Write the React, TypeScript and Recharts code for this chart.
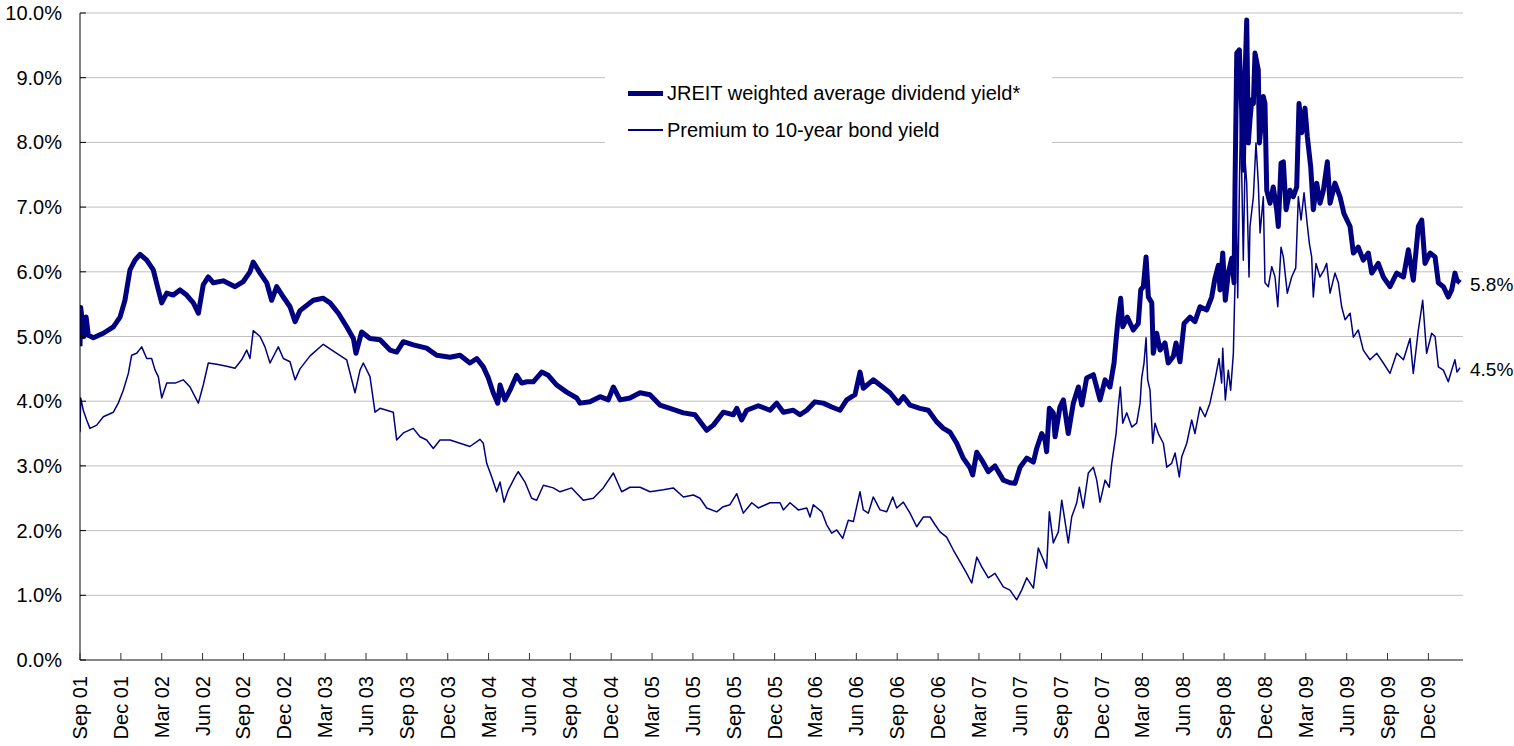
import { LineChart, Line, XAxis, YAxis, CartesianGrid, Legend, LabelList } from 'recharts';

const FONT = '"Liberation Sans", Arial, sans-serif';
const NAVY = '#000080';

// x = months since Sep 2001
const quarterLabels = [
  'Sep 01', 'Dec 01', 'Mar 02', 'Jun 02', 'Sep 02', 'Dec 02', 'Mar 03', 'Jun 03', 'Sep 03',
  'Dec 03', 'Mar 04', 'Jun 04', 'Sep 04', 'Dec 04', 'Mar 05', 'Jun 05', 'Sep 05', 'Dec 05',
  'Mar 06', 'Jun 06', 'Sep 06', 'Dec 06', 'Mar 07', 'Jun 07', 'Sep 07', 'Dec 07', 'Mar 08',
  'Jun 08', 'Sep 08', 'Dec 08', 'Mar 09', 'Jun 09', 'Sep 09', 'Dec 09',
];
const yTicks = [0, 1, 2, 3, 4, 5, 6, 7, 8, 9, 10];

const jreitMonths = [
  0, 0.05, 0.3, 0.45, 0.61, 0.98, 1.71, 2.45, 2.94, 3.3, 3.67, 4.04, 4.41, 4.9, 5.38, 5.75, 6.0,
  6.37, 6.85, 7.34, 7.83, 8.32, 8.69, 9.05, 9.42, 9.79, 10.52, 11.38, 11.99, 12.48, 12.72, 13.22,
  13.71, 14.07, 14.44, 14.93, 15.42, 15.79, 16.15, 17.13, 17.86, 18.36, 18.97, 19.58, 20.07, 20.26,
  20.68, 21.29, 22.03, 22.76, 23.25, 23.74, 24.47, 25.45, 26.19, 27.17, 27.9, 28.63, 29.13, 29.61,
  29.98, 30.34, 30.67, 30.84, 31.2, 31.57, 32.06, 32.43, 32.8, 33.28, 33.9, 34.38, 35.0, 35.73,
  36.47, 36.71, 37.44, 38.18, 38.79, 39.16, 39.65, 40.38, 41.12, 41.85, 42.58, 43.32, 44.3, 45.15,
  46.01, 46.5, 47.23, 47.97, 48.22, 48.58, 48.95, 49.8, 50.66, 51.15, 51.64, 52.37, 52.86, 53.36,
  53.96, 54.57, 55.19, 55.8, 56.29, 56.9, 57.27, 57.51, 58.24, 58.74, 59.47, 60.08, 60.45, 60.94,
  61.67, 62.28, 62.9, 63.39, 63.88, 64.37, 64.85, 65.35, 65.54, 65.84, 66.21, 66.69, 67.18, 67.79,
  68.28, 68.65, 69.02, 69.51, 70.0, 70.24, 70.61, 70.85, 70.97, 71.17, 71.46, 71.59, 71.95, 72.2,
  72.56, 72.93, 73.3, 73.55, 73.91, 74.4, 74.89, 75.26, 75.62, 75.92, 76.07, 76.23, 76.41, 76.56,
  76.89, 77.33, 77.7, 77.88, 78.07, 78.27, 78.44, 78.69, 78.8, 79.05, 79.3, 79.66, 79.9, 80.27,
  80.47, 80.76, 81.06, 81.5, 81.86, 82.23, 82.72, 83.09, 83.33, 83.58, 83.7, 83.9, 84.09, 84.31,
  84.56, 84.73, 84.8, 84.93, 85.12, 85.29, 85.41, 85.54, 85.66, 85.78, 85.9, 86.03, 86.15, 86.27,
  86.51, 86.59, 86.76, 86.88, 87.0, 87.13, 87.37, 87.61, 87.86, 87.98, 88.18, 88.35, 88.55, 88.84,
  89.08, 89.33, 89.5, 89.7, 89.94, 90.11, 90.36, 90.55, 90.8, 91.04, 91.29, 91.58, 91.78, 92.14,
  92.51, 92.8, 93.25, 93.49, 93.85, 94.22, 94.59, 94.84, 95.32, 95.69, 96.18, 96.67, 97.17, 97.53,
  97.89, 98.26, 98.51, 98.75, 99.12, 99.49, 99.73, 100.1, 100.46, 100.71, 100.95, 101.1, 101.32,
];
const jreitYield = [
  4.85, 5.45, 5.0, 5.3, 5.02, 4.98, 5.05, 5.15, 5.3, 5.56, 6.03, 6.18, 6.27, 6.18, 6.03, 5.72, 5.52,
  5.67, 5.64, 5.72, 5.64, 5.52, 5.36, 5.8, 5.92, 5.83, 5.86, 5.77, 5.85, 6.0, 6.15, 5.98,
  5.83, 5.56, 5.77, 5.61, 5.46, 5.23, 5.4, 5.56, 5.59, 5.52, 5.36, 5.15, 4.97, 4.74,
  5.07, 4.97, 4.95, 4.79, 4.76, 4.92, 4.87, 4.82, 4.71, 4.68, 4.71, 4.59, 4.66, 4.53,
  4.36, 4.13, 3.97, 4.25, 4.02, 4.17, 4.4, 4.28, 4.3, 4.3, 4.45, 4.4, 4.25, 4.14,
  4.05, 3.97, 3.99, 4.07, 4.02, 4.22, 4.02, 4.05, 4.13, 4.1, 3.94, 3.89, 3.82, 3.79,
  3.55, 3.63, 3.83, 3.79, 3.89, 3.71, 3.86, 3.93, 3.86, 3.97, 3.83, 3.86, 3.79, 3.86,
  3.99, 3.97, 3.91, 3.86, 4.02, 4.1, 4.45, 4.2, 4.33, 4.25, 4.13, 3.97, 4.07, 3.94,
  3.89, 3.86, 3.68, 3.58, 3.52, 3.35, 3.12, 2.97, 2.86, 3.21, 3.09, 2.91, 3.0, 2.78,
  2.74, 2.73, 2.98, 3.12, 3.06, 3.27, 3.5, 3.4, 3.22, 3.89, 3.82, 3.45, 3.91, 4.02,
  3.5, 3.97, 4.22, 3.94, 4.36, 4.41, 4.02, 4.33, 4.22, 4.59, 4.95, 5.3, 5.59, 5.15,
  5.3, 5.1, 5.2, 5.72, 5.77, 6.23, 5.61, 5.52, 4.74, 5.05, 4.79, 4.9, 4.59, 4.69,
  4.9, 4.61, 5.2, 5.3, 5.23, 5.46, 5.41, 5.61, 5.9, 6.1, 5.72, 6.29, 5.56, 5.98,
  6.21, 5.83, 7.3, 9.38, 9.43, 8.5, 7.57, 9.02, 9.89, 7.99, 8.35, 8.66, 8.6, 9.38,
  9.12, 7.99, 8.35, 8.71, 8.6, 7.26, 7.06, 7.31, 6.96, 6.7, 7.68, 7.7, 6.96, 7.26,
  7.16, 7.31, 8.6, 8.15, 8.53, 8.09, 7.62, 6.96, 7.37, 7.06, 7.26, 7.7, 7.06, 7.37,
  7.16, 6.9, 6.7, 6.29, 6.38, 6.18, 6.29, 5.98, 6.13, 5.92, 5.77, 5.98, 5.92, 6.34,
  5.87, 6.7, 6.8, 6.13, 6.29, 6.23, 5.83, 5.77, 5.61, 5.72, 5.98, 5.87, 5.83,
];

const premiumMonths = [
  0, 0.05, 0.24, 0.49, 0.73, 1.23, 1.71, 2.45, 2.81, 3.18, 3.55, 3.79, 4.16, 4.53, 4.9, 5.26, 5.51,
  5.75, 6.0, 6.37, 6.98, 7.58, 8.08, 8.44, 8.69, 9.05, 9.42, 10.04, 10.77, 11.38, 11.87, 12.24,
  12.48, 12.72, 13.22, 13.58, 13.95, 14.56, 14.93, 15.42, 15.79, 16.15, 16.89, 17.86, 18.85, 19.58,
  20.19, 20.56, 20.8, 21.29, 21.66, 22.03, 23.0, 23.25, 23.74, 24.47, 24.96, 25.45, 25.94, 26.43,
  27.17, 27.9, 28.63, 29.37, 29.61, 29.86, 30.23, 30.59, 30.84, 31.13, 31.45, 31.94, 32.18, 32.67,
  33.16, 33.53, 34.02, 34.75, 35.24, 36.1, 36.95, 37.69, 38.42, 39.16, 39.77, 40.38, 41.12, 41.85,
  42.83, 43.56, 44.3, 45.03, 45.52, 46.01, 46.75, 47.23, 47.72, 48.22, 48.7, 49.32, 49.8, 50.66,
  51.4, 51.64, 52.13, 52.74, 53.36, 53.6, 53.84, 54.46, 54.82, 55.19, 55.56, 56.0, 56.41, 56.78,
  57.27, 57.51, 57.88, 58.24, 58.74, 59.23, 59.67, 59.96, 60.45, 60.94, 61.43, 61.92, 62.41, 62.78,
  63.14, 63.63, 64.12, 64.61, 65.1, 65.47, 65.84, 66.21, 66.69, 67.18, 67.79, 68.28, 68.77, 69.14,
  69.51, 70.0, 70.36, 70.73, 70.97, 71.17, 71.46, 71.83, 72.08, 72.25, 72.56, 72.81, 73.18, 73.37,
  73.66, 74.03, 74.4, 74.65, 74.89, 75.26, 75.57, 75.75, 76.07, 76.23, 76.38, 76.56, 76.85, 77.22,
  77.58, 77.83, 77.95, 78.12, 78.27, 78.39, 78.56, 78.76, 78.93, 79.17, 79.54, 79.79, 80.15, 80.4,
  80.71, 80.89, 81.26, 81.62, 81.86, 82.23, 82.6, 82.96, 83.33, 83.63, 83.82, 83.9, 84.09, 84.31,
  84.48, 84.68, 84.8, 84.88, 85.0, 85.21, 85.41, 85.54, 85.66, 85.83, 85.9, 86.15, 86.34, 86.51,
  86.64, 86.88, 87.0, 87.25, 87.5, 87.74, 87.94, 88.18, 88.35, 88.64, 88.96, 89.26, 89.45, 89.65,
  89.87, 90.07, 90.26, 90.43, 90.55, 90.75, 91.04, 91.34, 91.53, 91.78, 92.14, 92.39, 92.63, 92.88,
  93.25, 93.49, 93.85, 94.22, 94.71, 95.21, 95.69, 96.18, 96.67, 97.17, 97.65, 97.89, 98.26, 98.58,
  98.87, 99.24, 99.49, 99.73, 100.1, 100.46, 100.71, 100.95, 101.1, 101.32,
];
const premiumYield = [
  3.52, 4.05, 3.86, 3.71, 3.58, 3.63, 3.76, 3.83, 3.97, 4.17, 4.43, 4.71, 4.74, 4.84, 4.66, 4.66, 4.48,
  4.38, 4.05, 4.28, 4.28, 4.33, 4.22, 4.07, 3.97, 4.25, 4.59, 4.57, 4.54, 4.51, 4.64, 4.79,
  4.66, 5.09, 5.0, 4.84, 4.59, 4.84, 4.66, 4.61, 4.33, 4.5, 4.7, 4.88, 4.74, 4.64,
  4.13, 4.48, 4.59, 4.38, 3.83, 3.89, 3.83, 3.4, 3.51, 3.58, 3.45, 3.4, 3.27, 3.4,
  3.4, 3.35, 3.3, 3.41, 3.35, 3.04, 2.83, 2.6, 2.75, 2.44, 2.63, 2.83, 2.91, 2.75,
  2.5, 2.47, 2.7, 2.66, 2.6, 2.66, 2.47, 2.5, 2.66, 2.89, 2.6, 2.67, 2.67, 2.6,
  2.63, 2.66, 2.52, 2.55, 2.5, 2.35, 2.29, 2.37, 2.4, 2.57, 2.27, 2.43, 2.35, 2.43,
  2.43, 2.32, 2.43, 2.32, 2.35, 2.21, 2.4, 2.29, 2.09, 1.96, 2.01, 1.88, 2.16, 2.14,
  2.6, 2.32, 2.27, 2.52, 2.32, 2.29, 2.52, 2.35, 2.44, 2.27, 2.06, 2.21, 2.21, 2.09,
  1.98, 1.9, 1.7, 1.52, 1.34, 1.19, 1.59, 1.44, 1.27, 1.34, 1.13, 1.08, 0.93, 1.08,
  1.27, 1.11, 1.73, 1.55, 1.42, 2.29, 1.81, 1.98, 2.47, 2.24, 1.81, 2.21, 2.43, 2.67,
  2.35, 2.89, 2.98, 2.78, 2.44, 2.78, 2.67, 3.04, 3.5, 3.91, 4.22, 3.66, 3.82, 3.6,
  3.66, 3.97, 4.36, 4.59, 4.98, 4.33, 4.17, 3.35, 3.66, 3.5, 3.35, 2.98, 3.04, 3.2,
  2.83, 3.14, 3.35, 3.71, 3.5, 3.91, 3.76, 3.97, 4.33, 4.66, 4.28, 4.82, 4.02, 4.48,
  4.17, 4.74, 5.83, 7.26, 5.6, 8.5, 6.18, 7.73, 7.37, 5.92, 6.7, 7.16, 7.99, 7.37,
  6.6, 7.16, 5.83, 5.77, 6.08, 5.92, 5.46, 6.38, 6.23, 5.67, 5.92, 6.06, 7.16, 6.8,
  7.22, 6.8, 6.44, 6.23, 5.61, 6.13, 5.92, 6.03, 6.13, 5.67, 5.98, 5.83, 5.46, 5.26,
  5.36, 4.99, 5.1, 4.79, 4.64, 4.74, 4.59, 4.43, 4.74, 4.64, 4.97, 4.43, 5.1, 5.56,
  4.74, 5.05, 5.0, 4.53, 4.48, 4.3, 4.48, 4.64, 4.45, 4.52,
];

const series = [
  { name: 'JREIT weighted average dividend yield*', width: 5, months: jreitMonths, values: jreitYield },
  { name: 'Premium to 10-year bond yield', width: 1.5, months: premiumMonths, values: premiumYield },
];

const quarterTicks = quarterLabels.map((_, i) => i * 3);

const XTick = ({ x, y, payload }: any) => {
  const label = quarterLabels[Math.round(payload.value / 3)];
  return (
    <g>
      <line x1={x} x2={x} y1={y} y2={y - 7} stroke="#333" />
      <text
        transform={`translate(${x},${y + 16}) rotate(-90)`}
        textAnchor="end"
        dominantBaseline="central"
        fontSize={20}
        fontFamily={FONT}
        fill="#000"
      >
        {label}
      </text>
    </g>
  );
};

const YTick = ({ x, y, payload }: any) => (
  <g>
    <line x1={x} x2={x + 6} y1={y} y2={y} stroke="#000" />
    <text x={x - 18} y={y} textAnchor="end" dominantBaseline="central" fontSize={20} fontFamily={FONT} fill="#000">
      {`${payload.value.toFixed(1)}%`}
    </text>
  </g>
);

const LegendBox = () => (
  <div style={{ position: 'relative', width: 447, height: 76, background: '#fff', fontFamily: FONT, fontSize: 20, color: '#000' }}>
    {series.map((s, i) => (
      <div
        key={s.name}
        style={{ position: 'absolute', left: 23, top: 21 + i * 37 - 12, height: 24, display: 'flex', alignItems: 'center', whiteSpace: 'nowrap' }}
      >
        <div style={{ width: 35, height: s.width, background: NAVY, marginRight: 4 }} />
        <span>{s.name}</span>
      </div>
    ))}
  </div>
);

const endLabel = (values: number[]) => (props: any) => {
  if (props.index !== values.length - 1) return null;
  return (
    <text x={props.x + 10} y={props.y + 2} dominantBaseline="central" fontSize={19} fontFamily={FONT} fill="#000">
      {`${values[values.length - 1].toFixed(1)}%`}
    </text>
  );
};

export default function App() {
  return (
    <div style={{ position: 'absolute', left: 0, top: 0, background: '#fff' }}>
      <LineChart width={1514} height={746} margin={{ top: 13, right: 51, bottom: 0, left: 0 }}>
        <CartesianGrid horizontal vertical={false} stroke="#c0c0c0" />
        <XAxis
          type="number"
          dataKey="m"
          domain={[0, 101.54]}
          ticks={quarterTicks}
          interval={0}
          height={86}
          tickSize={0}
          tickMargin={0}
          tickLine={false}
          tick={<XTick />}
          stroke="#333"
          allowDataOverflow
        />
        <YAxis
          type="number"
          domain={[0, 10]}
          ticks={yTicks}
          interval={0}
          width={80}
          tickSize={0}
          tickMargin={0}
          tickLine={false}
          tick={<YTick />}
          stroke="#000"
          allowDataOverflow
        />
        <Legend
          layout="vertical"
          verticalAlign="middle"
          align="center"
          content={<LegendBox />}
          wrapperStyle={{ left: 605, top: 72, width: 447, height: 76 }}
        />
        {series.map((s) => (
          <Line
            key={s.name}
            name={s.name}
            data={s.months.map((m, i) => ({ m, v: s.values[i] }))}
            dataKey="v"
            type="linear"
            stroke={NAVY}
            strokeWidth={s.width}
            strokeLinejoin="round"
            dot={false}
            activeDot={false}
            isAnimationActive={false}
          >
            <LabelList dataKey="v" content={endLabel(s.values)} />
          </Line>
        ))}
      </LineChart>
    </div>
  );
}
